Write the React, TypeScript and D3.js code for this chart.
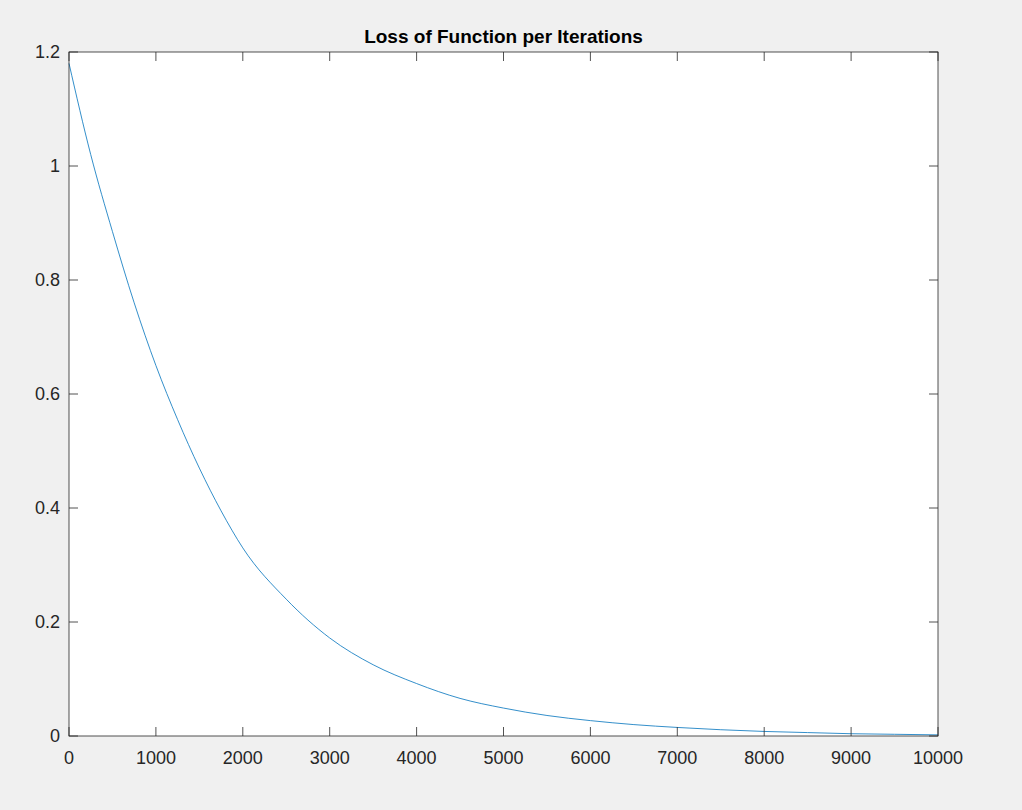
import React from "react";
import * as d3 from "d3";

const iterations = [0, 250, 500, 750, 1000, 1250, 1500, 1750, 2000, 2500, 3000, 3500, 4000, 4500, 5000, 5500, 6000, 6500, 7000, 7500, 8000, 8500, 9000, 9500, 10000];
const loss = [1.18, 1.02, 0.885, 0.76, 0.65, 0.555, 0.47, 0.395, 0.33, 0.24, 0.172, 0.125, 0.092, 0.066, 0.049, 0.036, 0.027, 0.02, 0.015, 0.011, 0.008, 0.006, 0.004, 0.003, 0.002];
const xTicks = [0, 1000, 2000, 3000, 4000, 5000, 6000, 7000, 8000, 9000, 10000];
const yTicks = [0, 0.2, 0.4, 0.6, 0.8, 1, 1.2];
const title = "Loss of Function per Iterations";

export default function App() {
  const W = 1022, H = 810;
  const L = 69, R = 938, T = 52, B = 736;
  const x = d3.scaleLinear().domain([0, 10000]).range([L, R]);
  const y = d3.scaleLinear().domain([0, 1.2]).range([B, T]);
  const line = d3.line<number>().x((_, i) => x(iterations[i])).y(d => y(d)).curve(d3.curveMonotoneX);
  const font = "Helvetica, Arial, 'Liberation Sans', sans-serif";
  const tl = 9;
  return (
    <svg width={W} height={H} style={{ position: "absolute", left: 0, top: 0, fontFamily: font }}>
      <rect width={W} height={H} fill="#f0f0f0" />
      <rect x={L} y={T} width={R - L} height={B - T} fill="#fff" />
      <path d={line(loss) || ""} fill="none" stroke="#0072bd" strokeWidth={0.8} />
      <rect x={L} y={T} width={R - L} height={B - T} fill="none" stroke="#262626" strokeWidth={0.8} />
      {xTicks.map(t => (
        <g key={t}>
          <line x1={x(t)} x2={x(t)} y1={B} y2={B - tl} stroke="#262626" strokeWidth={0.8} />
          <line x1={x(t)} x2={x(t)} y1={T} y2={T + tl} stroke="#262626" strokeWidth={0.8} />
          <text x={x(t)} y={B + 28} textAnchor="middle" fontSize={18} fill="#262626">{t}</text>
        </g>
      ))}
      {yTicks.map(t => (
        <g key={t}>
          <line x1={L} x2={L + tl} y1={y(t)} y2={y(t)} stroke="#262626" strokeWidth={0.8} />
          <line x1={R} x2={R - tl} y1={y(t)} y2={y(t)} stroke="#262626" strokeWidth={0.8} />
          <text x={L - 9} y={y(t) + 6} textAnchor="end" fontSize={18} fill="#262626">{t}</text>
        </g>
      ))}
      <text x={(L + R) / 2} y={T - 9} textAnchor="middle" fontSize={19} fontWeight="bold" fill="#000">{title}</text>
    </svg>
  );
}
